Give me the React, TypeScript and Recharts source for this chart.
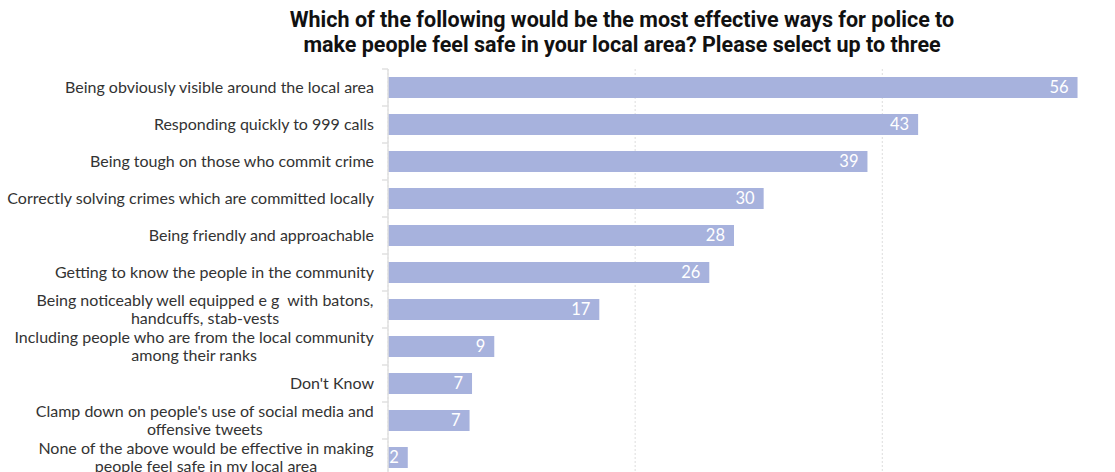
import React from 'react';
import { BarChart, Bar, XAxis, YAxis, CartesianGrid, LabelList } from 'recharts';

const categories = [
  'Being obviously visible around the local area',
  'Responding quickly to 999 calls',
  'Being tough on those who commit crime',
  'Correctly solving crimes which are committed locally',
  'Being friendly and approachable',
  'Getting to know the people in the community',
  'Being noticeably well equipped e g  with batons,\nhandcuffs, stab-vests',
  'Including people who are from the local community\namong their ranks',
  "Don't Know",
  "Clamp down on people's use of social media and\noffensive tweets",
  'None of the above would be effective in making\npeople feel safe in my local area',
];

const values = [55.8, 42.9, 38.8, 30.4, 28.0, 26.0, 17.1, 8.6, 6.8, 6.6, 1.6];

const xTicks = [0, 20, 40];
const xMax = 56;

const data = categories.map((name, i) => ({ name, value: values[i] }));

const LABEL_FONT = '16px Lato';
const BAND = 37;

let ctx: CanvasRenderingContext2D | null = null;
const textWidth = (s: string) => {
  if (!ctx) ctx = document.createElement('canvas').getContext('2d');
  if (!ctx) return s.length * 7;
  ctx.font = LABEL_FONT;
  return ctx.measureText(s).width;
};

// right-aligned block, extra lines centred under the first (like the original)
const CategoryTick = (props: any) => {
  const { x, y, payload } = props;
  const lines: string[] = String(payload.value).split('\n');
  const end = x - 14;
  const top = y - BAND / 2;
  const lineH = 17.5;
  const startY = y - ((lines.length - 1) * lineH) / 2;
  const blockW = Math.max(...lines.map(textWidth));
  return (
    <g>
      <line x1={x - 6} x2={x} y1={top} y2={top} stroke="#e0e0e0" strokeWidth={1.5} />
      {lines.map((l, i) => (
        <text
          key={i}
          x={lines.length > 1 ? end - blockW / 2 : end}
          y={startY + i * lineH}
          dy="0.35em"
          textAnchor={lines.length > 1 ? 'middle' : 'end'}
          fill="#333"
          fontSize={16}
          fontFamily="Lato"
          style={{ whiteSpace: 'pre' }}
        >
          {l}
        </text>
      ))}
    </g>
  );
};

// only the 20 / 40 lines, no line at the domain end
const gridX = (p: any) => {
  const s = p?.xAxis?.scale;
  if (typeof s === 'function') return xTicks.map((t) => s(t));
  if (s && typeof s.map === 'function') return xTicks.map((t) => s.map(t));
  const off = p?.offset ?? { left: 388, width: 692 };
  return xTicks.map((t) => off.left + (t / xMax) * off.width);
};

export default function App() {
  return (
    <div style={{ position: 'absolute', left: 0, top: 0, width: 1115, height: 472, overflow: 'hidden', background: '#fff' }}>
      <div
        style={{
          position: 'absolute',
          left: 222,
          width: 800,
          top: 7,
          textAlign: 'center',
          fontFamily: 'Roboto',
          fontWeight: 700,
          fontSize: 21.5,
          lineHeight: '25px',
          color: '#111',
          whiteSpace: 'nowrap',
        }}
      >
        Which of the following would be the most effective ways for police to
        <br />
        make people feel safe in your local area? Please select up to three
      </div>
      <div style={{ position: 'absolute', left: 0, top: 0 }}>
        <BarChart
          width={1115}
          height={480}
          data={data}
          layout="vertical"
          margin={{ top: 69, right: 35, bottom: 4, left: 0 }}
        >
          <CartesianGrid
            horizontal={false}
            stroke="#ddd"
            strokeDasharray="2 2"
            verticalCoordinatesGenerator={gridX}
          />
          <XAxis
            type="number"
            domain={[0, xMax]}
            ticks={xTicks}
            axisLine={false}
            tickLine={false}
            tick={false}
            height={0}
          />
          <YAxis
            type="category"
            dataKey="name"
            width={388}
            axisLine={{ stroke: '#e0e0e0', strokeWidth: 1.5 }}
            tickLine={false}
            tickSize={0}
            tickMargin={0}
            interval={0}
            tick={<CategoryTick />}
          />
          <Bar dataKey="value" fill="#a7b2dd" barSize={21} isAnimationActive={false}>
            <LabelList
              dataKey="value"
              position="insideRight"
              offset={9}
              fill="#fff"
              fontSize={16.5}
              fontFamily="Lato"
              formatter={(v: any) => Math.round(Number(v))}
            />
          </Bar>
        </BarChart>
      </div>
    </div>
  );
}
